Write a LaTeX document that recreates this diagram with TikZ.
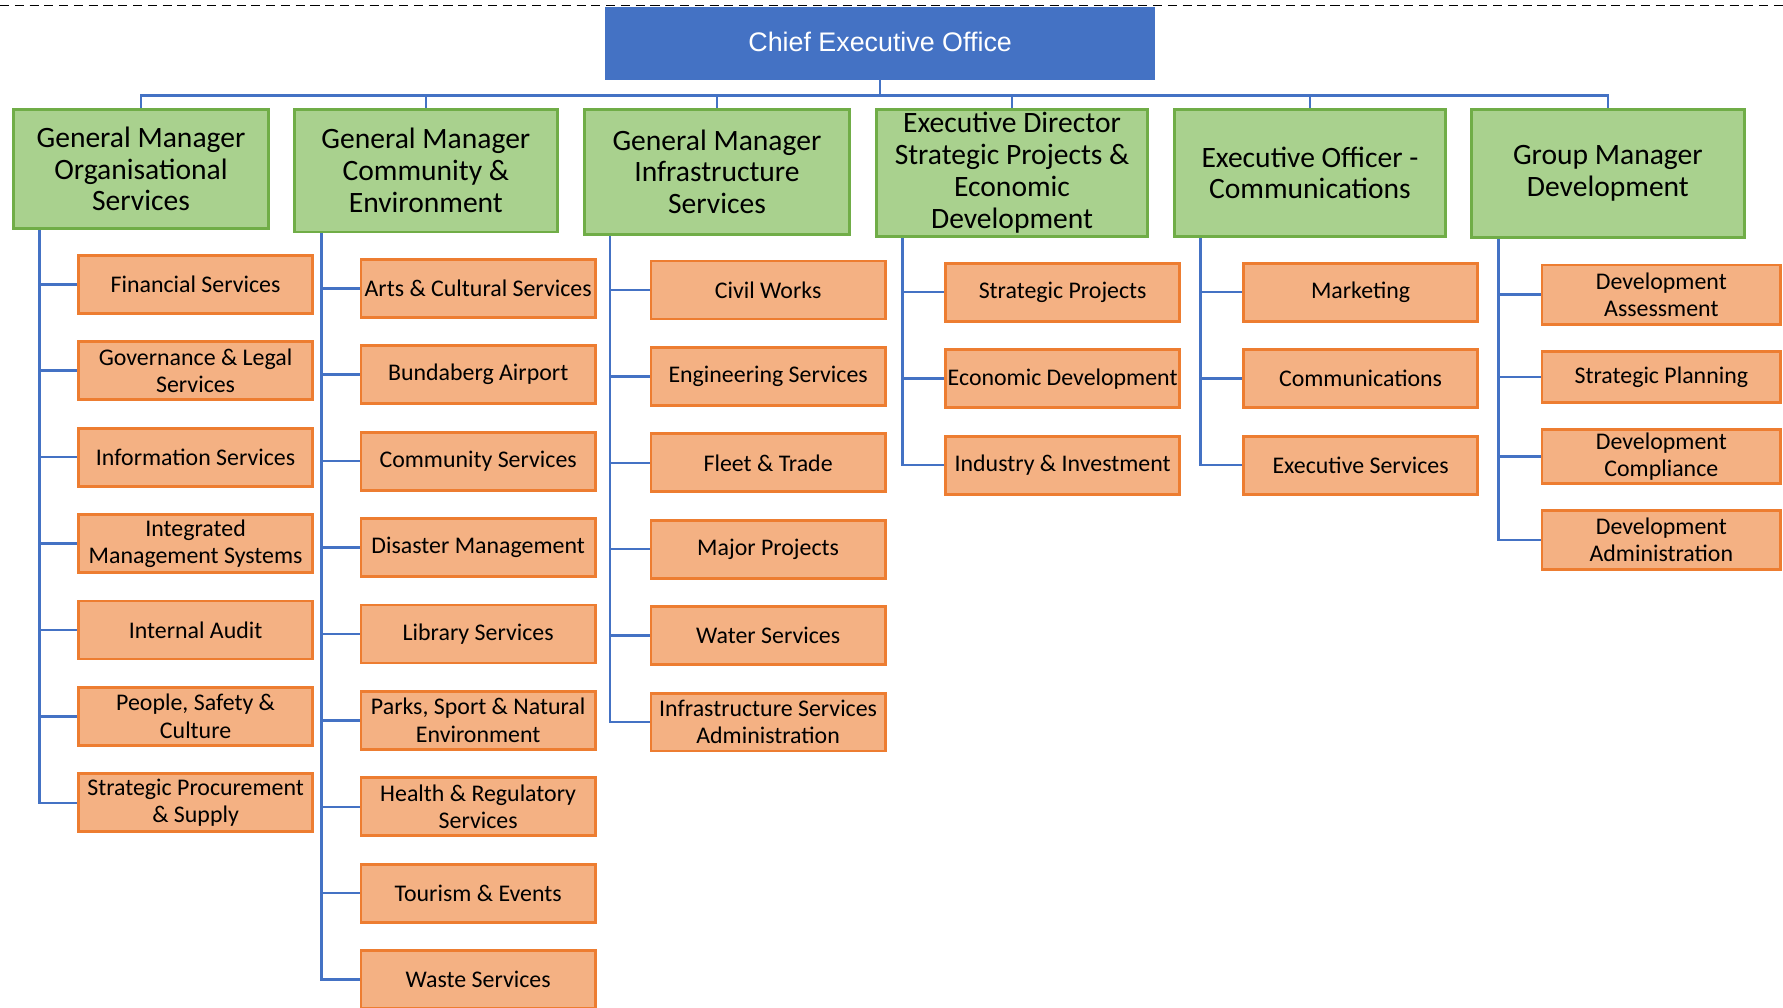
\documentclass[tikz,border=0pt]{standalone}
\usepackage{fontspec}
\setmainfont{Carlito}
\newfontfamily\ceofont{Liberation Sans}
\usepackage{tikz}
\definecolor{ceoblue}{HTML}{4472C4}
\definecolor{gmfill}{HTML}{A9D18E}
\definecolor{gmline}{HTML}{70AD47}
\definecolor{unitfill}{HTML}{F4B183}
\definecolor{unitline}{HTML}{ED7D31}
\definecolor{linkblue}{HTML}{4472C4}

\tikzset{
	ceo/.style={fill=ceoblue, text=white, inner sep=0pt,
		font=\ceofont\fontsize{23.6}{27}\selectfont,
		minimum width=484pt, minimum height=64pt},
	gm/.style={fill=gmfill, draw=gmline, line width=2.5pt, align=center,
		inner sep=0pt, font=\fontsize{26}{28}\selectfont},
	unit/.style={fill=unitfill, draw=unitline, line width=2.5pt, align=center,
		inner sep=0pt, font=\fontsize{21}{24}\selectfont,
		minimum width=206pt, minimum height=51pt},
	link/.style={draw=linkblue, line width=2.2pt},
	bus/.style={to path={-- ++(0,14) -| (\tikztotarget)}},
	elbow/.style={to path={|- (\tikztotarget)}}
}

\begin{document}
\begin{tikzpicture}[x=1pt,y=-1pt]
		\useasboundingbox (0,0) rectangle (1568,886);
		\draw[dash pattern=on 8pt off 5pt, line width=1.2pt] (0,5) -- (1568,5);

		\node[ceo] (CEO) at (774,38) {\raisebox{3pt}{Chief Executive Office}};

		\node[gm, minimum width=224pt, minimum height=105pt] (GM1) at (124,148.5) {General Manager\\Organisational\\Services};
		\node[gm, minimum width=231pt, minimum height=108pt] (GM2) at (374.5,150) {General Manager\\Community \&\\Environment};
		\node[gm, minimum width=233pt, minimum height=110pt] (GM3) at (630.5,151) {General Manager\\Infrastructure\\Services};
		\node[gm, minimum width=238pt, minimum height=112pt] (GM4) at (890,152) {Executive Director\\Strategic Projects \&\\Economic\\Development};
		\node[gm, minimum width=238pt, minimum height=112pt] (GM5) at (1152,152) {Executive Officer -\\Communications};
		\node[gm, minimum width=240pt, minimum height=113pt] (GM6) at (1414,152.5) {Group Manager\\Development};

		\coordinate (T1) at ([xshift=24pt]GM1.south west);
		\coordinate (T2) at ([xshift=25pt]GM2.south west);
		\coordinate (T3) at ([xshift=23.5pt]GM3.south west);
		\coordinate (T4) at ([xshift=24pt]GM4.south west);
		\coordinate (T5) at ([xshift=24pt]GM5.south west);
		\coordinate (T6) at ([xshift=25pt]GM6.south west);

		\node[unit] (O1) at (172,250) {Financial Services};
		\node[unit] (O2) at (172,326) {Governance \& Legal\\Services};
		\node[unit] (O3) at (172,402) {Information Services};
		\node[unit] (O4) at (172,478) {Integrated\\Management Systems};
		\node[unit] (O5) at (172,554) {Internal Audit};
		\node[unit] (O6) at (172,630) {People, Safety \&\\Culture};
		\node[unit] (O7) at (172,706) {Strategic Procurement\\\& Supply};

		\node[unit] (C1) at (420.5,253.5) {Arts \& Cultural Services};
		\node[unit] (C2) at (420.5,329.5) {Bundaberg Airport};
		\node[unit] (C3) at (420.5,405.5) {Community Services};
		\node[unit] (C4) at (420.5,481.5) {Disaster Management};
		\node[unit] (C5) at (420.5,557.5) {Library Services};
		\node[unit] (C6) at (420.5,633.5) {Parks, Sport \& Natural\\Environment};
		\node[unit] (C7) at (420.5,709.5) {Health \& Regulatory\\Services};
		\node[unit] (C8) at (420.5,785.5) {Tourism \& Events};
		\node[unit] (C9) at (420.5,861.5) {Waste Services};

		\node[unit] (I1) at (675.5,255) {Civil Works};
		\node[unit] (I2) at (675.5,331) {Engineering Services};
		\node[unit] (I3) at (675.5,407) {Fleet \& Trade};
		\node[unit] (I4) at (675.5,483) {Major Projects};
		\node[unit] (I5) at (675.5,559) {Water Services};
		\node[unit] (I6) at (675.5,635) {Infrastructure Services\\Administration};

		\node[unit] (E1) at (934.5,257) {Strategic Projects};
		\node[unit] (E2) at (934.5,333) {Economic Development};
		\node[unit] (E3) at (934.5,409) {Industry \& Investment};

		\node[unit] (M1) at (1196.5,257) {Marketing};
		\node[unit] (M2) at (1196.5,333) {Communications};
		\node[unit] (M3) at (1196.5,409) {Executive Services};

		\node[unit, minimum width=210pt, minimum height=52pt] (D1) at (1461,259) {Development\\Assessment};
		\node[unit, minimum width=210pt, minimum height=45pt] (D2) at (1461,331.5) {Strategic Planning};
		\node[unit, minimum width=210pt, minimum height=47pt] (D3) at (1461,401.5) {Development\\Compliance};
		\node[unit, minimum width=210pt, minimum height=52pt] (D4) at (1461,475) {Development\\Administration};
		%
		\path[link]
		(CEO.south) edge[bus] (GM1.north)
		(CEO.south) edge[bus] (GM2.north)
		(CEO.south) edge[bus] (GM3.north)
		(CEO.south) edge[bus] (GM4.north)
		(CEO.south) edge[bus] (GM5.north)
		(CEO.south) edge[bus] (GM6.north)

		(T1) edge[elbow] (O1.west)
		(T1 |- O1.west) edge[elbow] (O2.west)
		(T1 |- O2.west) edge[elbow] (O3.west)
		(T1 |- O3.west) edge[elbow] (O4.west)
		(T1 |- O4.west) edge[elbow] (O5.west)
		(T1 |- O5.west) edge[elbow] (O6.west)
		(T1 |- O6.west) edge[elbow] (O7.west)

		(T2) edge[elbow] (C1.west)
		(T2 |- C1.west) edge[elbow] (C2.west)
		(T2 |- C2.west) edge[elbow] (C3.west)
		(T2 |- C3.west) edge[elbow] (C4.west)
		(T2 |- C4.west) edge[elbow] (C5.west)
		(T2 |- C5.west) edge[elbow] (C6.west)
		(T2 |- C6.west) edge[elbow] (C7.west)
		(T2 |- C7.west) edge[elbow] (C8.west)
		(T2 |- C8.west) edge[elbow] (C9.west)

		(T3) edge[elbow] (I1.west)
		(T3 |- I1.west) edge[elbow] (I2.west)
		(T3 |- I2.west) edge[elbow] (I3.west)
		(T3 |- I3.west) edge[elbow] (I4.west)
		(T3 |- I4.west) edge[elbow] (I5.west)
		(T3 |- I5.west) edge[elbow] (I6.west)

		(T4) edge[elbow] (E1.west)
		(T4 |- E1.west) edge[elbow] (E2.west)
		(T4 |- E2.west) edge[elbow] (E3.west)

		(T5) edge[elbow] (M1.west)
		(T5 |- M1.west) edge[elbow] (M2.west)
		(T5 |- M2.west) edge[elbow] (M3.west)

		(T6) edge[elbow] (D1.west)
		(T6 |- D1.west) edge[elbow] (D2.west)
		(T6 |- D2.west) edge[elbow] (D3.west)
		(T6 |- D3.west) edge[elbow] (D4.west);
\end{tikzpicture}
\end{document}
